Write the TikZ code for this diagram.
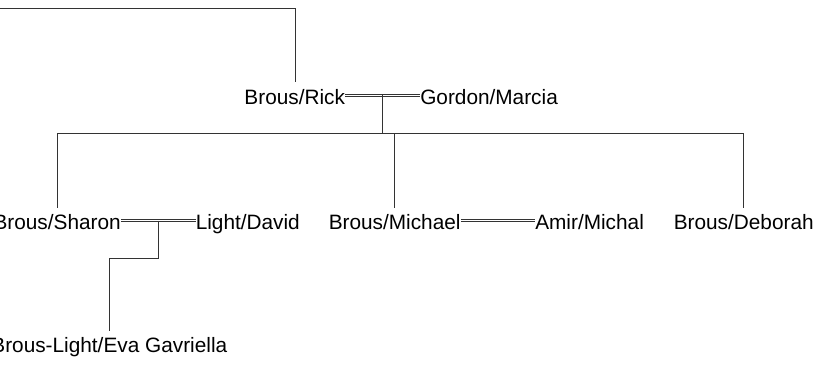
\documentclass[tikz,border=0pt]{standalone}
\usepackage{fontspec}
\setmainfont{Liberation Sans}

\begin{document}
\begin{tikzpicture}[x=0.75pt,y=0.75pt,yscale=-1,xscale=1,
    person/.style={inner xsep=0pt, inner ysep=3pt, text height=13pt, text depth=0pt, font=\fontsize{15.6pt}{18pt}\selectfont},
    descent/.style={draw=black!80, line width=0.6pt},
    marriage/.style={draw=black!80, line width=0.55pt, double, double distance=0.95pt}]
    \useasboundingbox (0,0) rectangle (817,365);

    % People
    \node [person, anchor=base west] (rick) at (244.2,104) {Brous/Rick};
    \node [person, anchor=base west] (gordon) at (420,104) {Gordon/Marcia};
    \node [person, anchor=base east] (sharon) at (121,229.5) {Brous/Sharon};
    \node [person, anchor=base west] (david) at (195.5,229.5) {Light/David};
    \node [person, anchor=base west] (michael) at (328.5,229.5) {Brous/Michael};
    \node [person, anchor=base west] (amir) at (535,229.5) {Amir/Michal};
    \node [person, anchor=base west] (deborah) at (673.5,229.5) {Brous/Deborah};
    \node [person, anchor=base east] (eva) at (227.5,352.7) {Brous-Light/Eva Gavriella};

    % Helper coordinates
    \coordinate (offpage) at (0,8.7);
    \coordinate (rickpar) at (295,8.7);
    \coordinate (kids) at (0,133.3);
    \coordinate (jog) at (0,258.3);

    % Marriages
    \draw [marriage] (rick.east) -- (gordon.west) coordinate[midway] (rg);
    \draw [marriage] (sharon.east) -- (david.west) coordinate[midway] (sd);
    \draw [marriage] (michael.east) -- (amir.west);

    % Descent lines
    \draw [descent] (offpage) -- (rickpar) -- (rickpar |- rick.north);
    \draw [descent] (rg) -- (rg |- kids);
    \draw [descent] (sharon.north) |- (kids -| deborah.north) -- (deborah.north);
    \draw [descent] (michael.north |- kids) -- (michael.north);
    \draw [descent] (sd) -- (sd |- jog) -| (eva.north);

\end{tikzpicture}
\end{document}
